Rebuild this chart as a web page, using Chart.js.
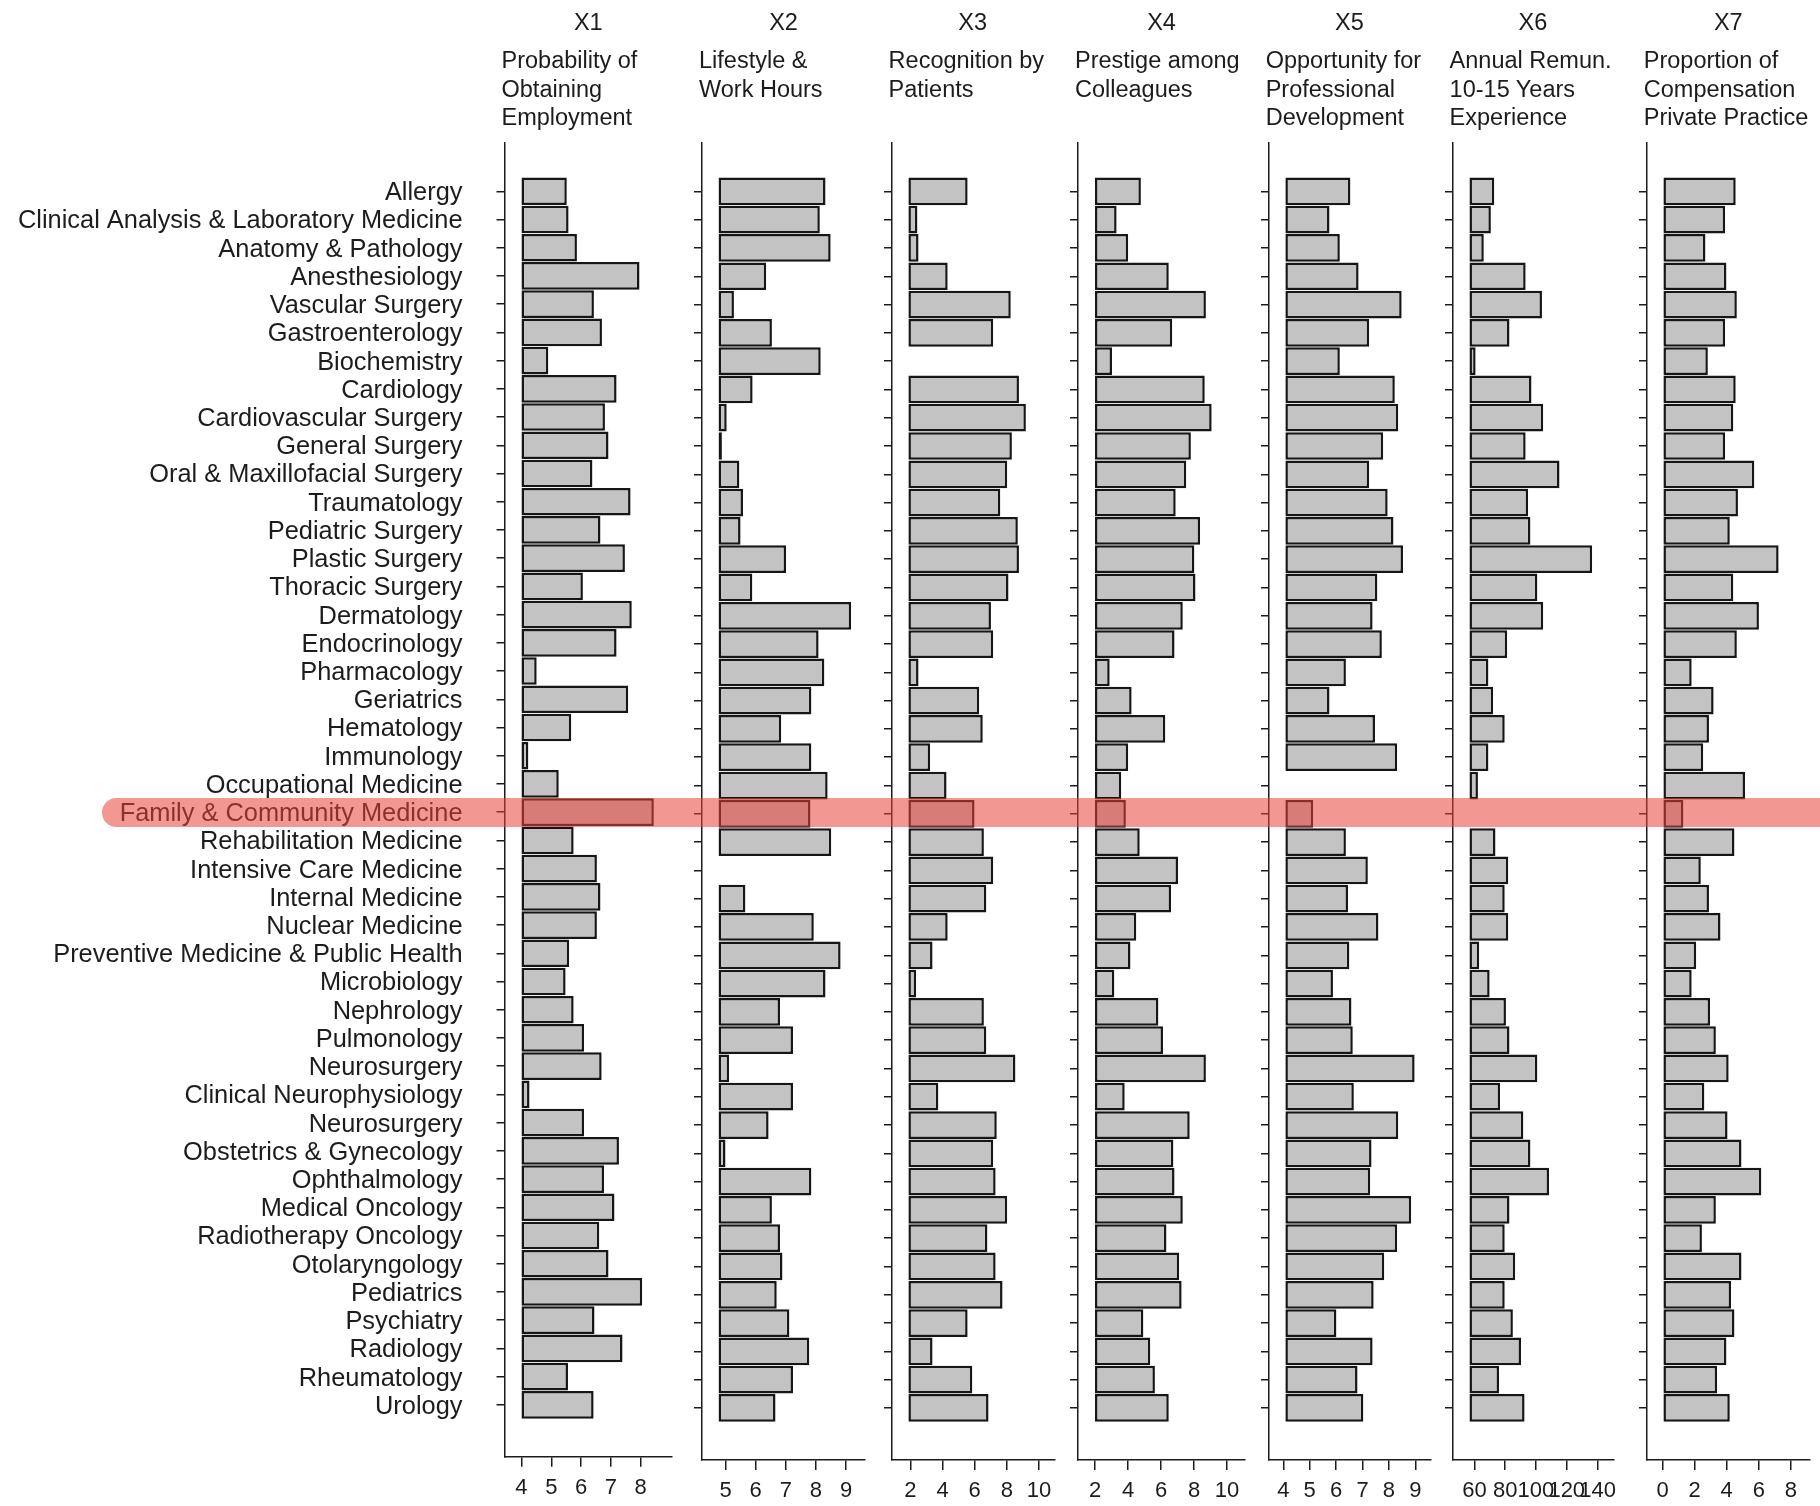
<!DOCTYPE html>
<html>
<head>
<meta charset="utf-8">
<title>Specialty ratings</title>
<script src="https://cdn.jsdelivr.net/npm/chart.js@4.4.1/dist/chart.umd.min.js"></script>
<style>
  html, body { margin: 0; padding: 0; background: #fff; }
  #page {
    position: relative; width: 1820px; height: 1506px; overflow: hidden;
    font-family: "Liberation Sans", Arial, sans-serif; color: #1c1c1c;
  }
  #page canvas { position: absolute; top: 0; }
  .code { position: absolute; top: 8px; font-size: 23.5px; line-height: 28px; text-align: center; width: 80px; }
  .head { position: absolute; top: 46px; font-size: 23.5px; line-height: 28.5px; white-space: nowrap; }
  #highlight {
    position: absolute; height: 29px; border-radius: 15px;
    background: rgba(232, 65, 55, 0.55); pointer-events: none; z-index: 5;
  }
</style>
</head>
<body>
<div id="page"></div>
<script>
// ---- data ----
const specialties = [
  'Allergy', 'Clinical Analysis & Laboratory Medicine', 'Anatomy & Pathology', 'Anesthesiology',
  'Vascular Surgery', 'Gastroenterology', 'Biochemistry', 'Cardiology', 'Cardiovascular Surgery',
  'General Surgery', 'Oral & Maxillofacial Surgery', 'Traumatology', 'Pediatric Surgery',
  'Plastic Surgery', 'Thoracic Surgery', 'Dermatology', 'Endocrinology', 'Pharmacology',
  'Geriatrics', 'Hematology', 'Immunology', 'Occupational Medicine', 'Family & Community Medicine',
  'Rehabilitation Medicine', 'Intensive Care Medicine', 'Internal Medicine', 'Nuclear Medicine',
  'Preventive Medicine & Public Health', 'Microbiology', 'Nephrology', 'Pulmonology', 'Neurosurgery',
  'Clinical Neurophysiology', 'Neurosurgery', 'Obstetrics & Gynecology', 'Ophthalmology',
  'Medical Oncology', 'Radiotherapy Oncology', 'Otolaryngology', 'Pediatrics', 'Psychiatry',
  'Radiology', 'Rheumatology', 'Urology'
];
const highlighted = 'Family & Community Medicine';

const x1Employment = [5.52, 5.58, 5.86, 7.96, 6.43, 6.70, 4.90, 7.19, 6.80, 6.92, 6.38, 7.66, 6.65, 7.47, 6.06,
  7.70, 7.19, 4.51, 7.58, 5.67, 4.23, 5.25, 8.44, 5.75, 6.53, 6.65, 6.53, 5.60, 5.48, 5.75, 6.10, 6.69,
  4.27, 6.10, 7.27, 6.77, 7.12, 6.61, 6.92, 8.05, 6.45, 7.39, 5.56, 6.42];
const x2Lifestyle = [8.32, 8.13, 8.49, 6.35, 5.28, 6.54, 8.16, 5.90, 5.04, 4.88, 5.46, 5.58, 5.50, 7.01, 5.89,
  9.17, 8.09, 8.28, 7.85, 6.85, 7.85, 8.39, 7.82, 8.51, 4.77, 5.66, 7.93, 8.82, 8.32, 6.81, 7.24, 5.12,
  7.24, 6.43, 5.00, 7.85, 6.54, 6.81, 6.89, 6.70, 7.12, 7.78, 7.24, 6.66];
const x3Recognition = [5.56, 2.44, 2.51, 4.32, 8.24, 7.15, 1.88, 8.75, 9.18, 8.31, 8.02, 7.59, 8.68, 8.75, 8.10,
  7.01, 7.15, 2.51, 6.28, 6.50, 3.23, 4.25, 5.99, 6.57, 7.15, 6.72, 4.32, 3.38, 2.36, 6.57, 6.72, 8.53,
  3.74, 7.37, 7.15, 7.30, 8.02, 6.79, 7.30, 7.73, 5.56, 3.38, 5.85, 6.86];
const x4Prestige = [4.78, 3.31, 4.01, 6.47, 8.72, 6.68, 3.03, 8.65, 9.07, 7.81, 7.53, 6.89, 8.37, 8.02, 8.09,
  7.32, 6.82, 2.89, 4.22, 6.26, 4.01, 3.59, 3.87, 4.71, 7.03, 6.61, 4.50, 4.15, 3.17, 5.84, 6.12, 8.72,
  3.80, 7.74, 6.75, 6.82, 7.32, 6.33, 7.10, 7.25, 4.93, 5.35, 5.63, 6.47];
const x5Development = [6.54, 5.75, 6.14, 6.85, 8.48, 7.25, 6.14, 8.22, 8.35, 7.78, 7.25, 7.95, 8.17, 8.53, 7.56,
  7.38, 7.73, 6.37, 5.75, 7.47, 8.31, 4.08, 5.13, 6.37, 7.20, 6.45, 7.60, 6.50, 5.88, 6.58, 6.63, 8.97,
  6.67, 8.35, 7.34, 7.29, 8.84, 8.31, 7.82, 7.42, 6.01, 7.38, 6.81, 7.03];
const x6Remuneration = [72.9, 70.7, 66.1, 93.3, 103.9, 82.8, 60.8, 97.1, 104.7, 93.3, 115.3, 94.9, 96.4, 136.5, 100.9,
  104.7, 81.3, 69.1, 72.2, 79.7, 69.1, 62.3, 56.8, 73.7, 82.0, 79.7, 82.0, 63.1, 69.9, 80.5, 82.8, 100.9,
  76.7, 91.8, 96.4, 108.5, 82.8, 79.7, 86.5, 79.7, 85.0, 90.3, 76.0, 92.6];
const x7PrivatePractice = [4.56, 3.90, 2.67, 3.98, 4.63, 3.90, 2.82, 4.56, 4.41, 3.90, 5.72, 4.70, 4.19, 7.24, 4.41,
  6.01, 4.63, 1.81, 3.18, 2.89, 2.53, 5.14, 1.29, 4.48, 2.38, 2.89, 3.61, 2.09, 1.81, 2.96, 3.32, 4.12,
  2.60, 4.05, 4.92, 6.16, 3.32, 2.45, 4.92, 4.27, 4.48, 3.98, 3.40, 4.19];

const panelCodes = ['X1', 'X2', 'X3', 'X4', 'X5', 'X6', 'X7'];
const panelTitles = [
  ['Probability of', 'Obtaining', 'Employment'],
  ['Lifestyle &', 'Work Hours'],
  ['Recognition by', 'Patients'],
  ['Prestige among', 'Colleagues'],
  ['Opportunity for', 'Professional', 'Development'],
  ['Annual Remun.', '10-15 Years', 'Experience'],
  ['Proportion of', 'Compensation', 'Private Practice']
];
const panelValues = [x1Employment, x2Lifestyle, x3Recognition, x4Prestige, x5Development, x6Remuneration, x7PrivatePractice];
const panelTicks = [[4, 5, 6, 7, 8], [5, 6, 7, 8, 9], [2, 4, 6, 8, 10], [2, 4, 6, 8, 10],
  [4, 5, 6, 7, 8, 9], [60, 80, 100, 120, 140], [0, 2, 4, 6, 8]];
// value each panel's bars grow from
const panelOrigin = [4.0, 4.77, 1.88, 2.0, 4.08, 56.8, 0];

// ---- layout ----
const frames = [
  { left: 504.5, right: 672, min: 3.43, max: 9.05 },
  { left: 702, right: 865, min: 4.22, max: 9.63 },
  { left: 891.6, right: 1053.7, min: 0.86, max: 10.99 },
  { left: 1078, right: 1245, min: 0.97, max: 11.09 },
  { left: 1268.7, right: 1430, min: 3.46, max: 9.59 },
  { left: 1452.6, right: 1613.3, min: 46.1, max: 150.7 },
  { left: 1646.8, right: 1809.7, min: -0.98, max: 9.2 }
];
const H = 1506, plotTop = 143, xAxisH = 46;
const INK = '#1c1c1c';
const FONT = '"Liberation Sans", Arial, sans-serif';

const page = document.getElementById('page');
const charts = [];

frames.forEach((f, p) => {
  const first = p === 0;
  const yAxisW = first ? f.left : 20;
  const padRight = 20;
  const canvasLeft = f.left - yAxisW;
  const width = Math.ceil(f.right - canvasLeft + padRight);

  const canvas = document.createElement('canvas');
  canvas.width = width;
  canvas.height = H;
  canvas.style.left = canvasLeft + 'px';
  canvas.style.width = width + 'px';
  canvas.style.height = H + 'px';
  page.appendChild(canvas);

  const origin = panelOrigin[p];
  const chart = new Chart(canvas.getContext('2d'), {
    type: 'bar',
    data: {
      datasets: [{
        data: panelValues[p].map((v, i) => ({ x: [origin, v], y: i })),
        backgroundColor: '#c3c3c3',
        borderColor: '#161616',
        borderWidth: 2.5,
        borderSkipped: false,
        barPercentage: 1,
        categoryPercentage: 0.98
      }]
    },
    options: {
      indexAxis: 'y',
      responsive: false,
      animation: false,
      devicePixelRatio: 1,
      layout: { padding: { top: plotTop, right: padRight, left: 0, bottom: 0 } },
      plugins: { legend: { display: false }, tooltip: { enabled: false } },
      scales: {
        y: {
          type: 'linear',
          reverse: true,
          offset: false,
          min: -1.71,
          max: 44.84,
          afterBuildTicks: s => { s.ticks = specialties.map((_, i) => ({ value: i })); },
          afterFit: s => { s.width = yAxisW; },
          ticks: {
            display: first,
            autoSkip: false,
            padding: 34,
            labelOffset: 2,
            color: INK,
            font: { family: FONT, size: 25.4 },
            callback: v => specialties[v]
          },
          grid: { drawOnChartArea: false, offset: false, tickLength: 8, color: INK, lineWidth: 1.5 },
          border: { display: true, color: INK, width: 1.5 }
        },
        x: {
          type: 'linear',
          min: f.min,
          max: f.max,
          afterBuildTicks: s => { s.ticks = panelTicks[p].map(v => ({ value: v })); },
          afterFit: s => { s.height = xAxisH; },
          ticks: {
            autoSkip: false,
            maxRotation: 0,
            padding: 8,
            color: INK,
            font: { family: FONT, size: 22 },
            callback: v => String(v)
          },
          grid: { drawOnChartArea: false, tickLength: 10, color: INK, lineWidth: 1.5 },
          border: { display: true, color: INK, width: 1.5 }
        }
      }
    }
  });
  charts.push(chart);

  // panel header: code centred, description lines left-aligned
  const code = document.createElement('div');
  code.className = 'code';
  code.textContent = panelCodes[p];
  code.style.left = ((f.left + f.right) / 2 - 40) + 'px';
  page.appendChild(code);

  const head = document.createElement('div');
  head.className = 'head';
  head.innerHTML = panelTitles[p].join('<br>');
  head.style.left = (f.left - 3) + 'px';
  page.appendChild(head);
});

// band marking one specialty across all panels
const yScale = charts[0].scales.y;
const rowY = yScale.getPixelForValue(specialties.indexOf(highlighted));
const band = document.createElement('div');
band.id = 'highlight';
band.style.left = '102px';
band.style.top = (rowY - 14) + 'px';
band.style.width = '1760px';
page.appendChild(band);
</script>
</body>
</html>
